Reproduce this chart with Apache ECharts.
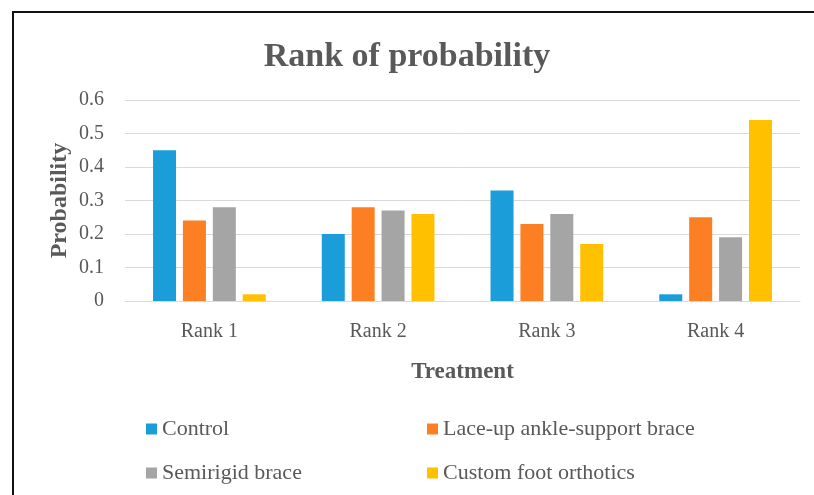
<!DOCTYPE html>
<html>
<head>
<meta charset="utf-8">
<script src="https://cdn.jsdelivr.net/npm/echarts@6/dist/echarts.min.js"></script>
<style>html,body{margin:0;padding:0;background:#fff}#c{width:814px;height:495px}</style>
</head>
<body>
<div id="c"></div>
<script>
var categories = ['Rank 1', 'Rank 2', 'Rank 3', 'Rank 4'];
var seriesNames = ['Control', 'Lace-up ankle-support brace', 'Semirigid brace', 'Custom foot orthotics'];
var control = [0.45, 0.20, 0.33, 0.02];
var laceUp = [0.24, 0.28, 0.23, 0.25];
var semirigid = [0.28, 0.27, 0.26, 0.19];
var customFoot = [0.02, 0.26, 0.17, 0.54];
var colors = ['#1a9dd9', '#fd7f23', '#a5a5a5', '#ffc000'];

var F = 'Liberation Serif, serif';
var chart = echarts.init(document.getElementById('c'));
var values = [control, laceUp, semirigid, customFoot];
var legendText = { fontFamily: F, fontSize: 22, lineHeight: 22, color: '#595959' };
chart.setOption({
  animation: false,
  title: {
    text: 'Rank of probability', left: 'center', top: 35,
    textStyle: { fontFamily: F, fontSize: 34, fontWeight: 'bold', color: '#595959' }
  },
  graphic: [{
    type: 'rect', shape: { x: 13, y: 12, width: 900, height: 600 },
    style: { fill: 'none', stroke: '#111', lineWidth: 2 }, silent: true
  }],
  legend: [{
    data: [seriesNames[0], seriesNames[2]], orient: 'vertical', left: 146, top: 418,
    itemWidth: 11, itemHeight: 11, icon: 'rect', itemGap: 22, padding: 0,
    textStyle: legendText
  }, {
    data: [seriesNames[1], seriesNames[3]], orient: 'vertical', left: 427, top: 418,
    itemWidth: 11, itemHeight: 11, icon: 'rect', itemGap: 22, padding: 0,
    textStyle: legendText
  }],
  grid: { left: 125, right: 14, top: 100, height: 201 },
  xAxis: {
    type: 'category', data: categories,
    name: 'Treatment', nameLocation: 'middle', nameGap: 60,
    nameTextStyle: { fontFamily: F, fontSize: 23, fontWeight: 'bold', color: '#595959' },
    axisLine: { lineStyle: { color: '#d9d9d9', width: 1 } },
    axisTick: { show: false },
    axisLabel: { fontFamily: F, fontSize: 20, color: '#595959', margin: 21 }
  },
  yAxis: {
    type: 'value', min: 0, max: 0.6, interval: 0.1,
    name: 'Probability', nameLocation: 'middle', nameGap: 53, nameRotate: 90,
    nameMoveOverlap: false,
    nameTextStyle: { fontFamily: F, fontSize: 24, fontWeight: 'bold', color: '#595959' },
    axisLine: { show: false }, axisTick: { show: false },
    splitLine: { lineStyle: { color: '#d9d9d9', width: 1 } },
    axisLabel: { fontFamily: F, fontSize: 20, color: '#595959', margin: 21,
      formatter: function (v) { return v === 0 ? '0' : v.toFixed(1); } }
  },
  series: seriesNames.map(function (n, i) {
    return {
      name: n, type: 'bar', data: values[i], barWidth: 23, barGap: '30%',
      itemStyle: { color: colors[i] }
    };
  })
});
</script>
</body>
</html>
